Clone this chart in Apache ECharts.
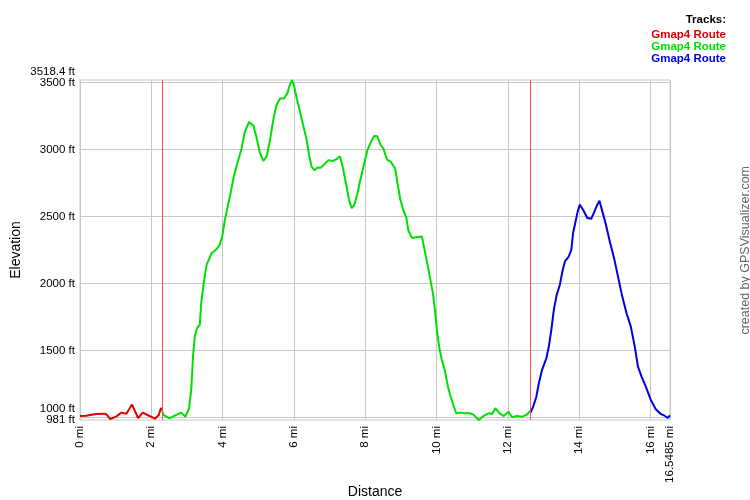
<!DOCTYPE html>
<html>
<head>
<meta charset="utf-8">
<script src="https://cdn.jsdelivr.net/npm/echarts@6/dist/echarts.min.js"></script>
<style>
  html, body { margin: 0; padding: 0; background: #fff; }
  #chart { width: 750px; height: 500px; }
</style>
</head>
<body>
<div id="chart"></div>
<script>
// track 1 (red)
const track1Dist = [0, 0.17, 0.45, 0.69, 0.75, 0.85, 1.01, 1.16, 1.30, 1.46, 1.63, 1.76, 1.95, 2.10, 2.21, 2.27, 2.30]
const track1Elev = [1010, 1013, 1026, 1028, 1021, 987, 1006, 1036, 1028, 1096, 996, 1036, 1011, 991, 1019, 1071, 1056]

// track 2 (green)
const track2Dist = [2.30, 2.34, 2.51, 2.70, 2.84, 2.96, 3.06, 3.12, 3.17, 3.22, 3.28, 3.36, 3.40, 3.47, 3.55, 3.69,
  3.83, 3.92, 3.99, 4.06, 4.15, 4.23, 4.31, 4.41, 4.53, 4.62, 4.74, 4.86, 4.97, 5.04, 5.14, 5.23, 5.32, 5.42,
  5.51, 5.61, 5.72, 5.81, 5.87, 5.94, 6.00, 6.08, 6.17, 6.26, 6.36, 6.43, 6.50, 6.58, 6.66, 6.75, 6.87, 6.96,
  7.10, 7.22, 7.29, 7.37, 7.46, 7.55, 7.62, 7.69, 7.78, 7.87, 7.97, 8.06, 8.16, 8.25, 8.34, 8.42, 8.51, 8.61,
  8.72, 8.84, 8.90, 8.98, 9.07, 9.15, 9.21, 9.31, 9.43, 9.59, 9.65, 9.78, 9.90, 9.96, 10.01, 10.08, 10.15,
  10.24, 10.32, 10.39, 10.55, 10.67, 10.81, 10.95, 11.04, 11.18, 11.32, 11.46, 11.56, 11.65, 11.77, 11.88,
  12.02, 12.12, 12.26, 12.40, 12.52, 12.64]
const track2Elev = [1056, 1019, 994, 1019, 1036, 1006, 1069, 1205, 1454, 1604, 1666, 1691, 1853, 2002, 2139, 2226,
  2255, 2289, 2351, 2471, 2583, 2682, 2794, 2894, 3006, 3130, 3205, 3180, 3068, 2981, 2914, 2944, 3056, 3218,
  3330, 3380, 3380, 3417, 3467, 3518.4, 3480, 3380, 3281, 3180, 3068, 2950, 2870, 2844, 2866, 2864, 2894, 2919,
  2914, 2932, 2949, 2869, 2744, 2620, 2562, 2583, 2670, 2782, 2894, 2994, 3056, 3101, 3099, 3039, 3007, 2924,
  2907, 2857, 2757, 2632, 2545, 2495, 2395, 2340, 2345, 2350, 2270, 2096, 1926, 1790, 1654, 1516, 1429,
  1342, 1230, 1160, 1031, 1036, 1031, 1031, 1019, 981, 1011, 1031, 1026, 1069, 1031, 1011,
  1043, 1001, 1011, 1006, 1019, 1050]

// track 3 (blue)
const track3Dist = [12.64, 12.71, 12.80, 12.87, 12.96, 13.08, 13.15, 13.22, 13.29, 13.37, 13.46, 13.53, 13.60, 13.71,
  13.78, 13.83, 13.90, 13.96, 14.02, 14.11, 14.23, 14.34, 14.43, 14.51, 14.57, 14.65, 14.74, 14.86, 14.98, 15.09,
  15.21, 15.33, 15.45, 15.56, 15.65, 15.75, 15.87, 16.01, 16.15, 16.29, 16.38, 16.48, 16.5485]
const track3Elev = [1036, 1081, 1155, 1255, 1355, 1442, 1529, 1654, 1803, 1915, 1990, 2089, 2164, 2201,
  2251, 2376, 2463, 2538, 2588, 2550, 2488, 2483, 2538, 2588, 2617, 2538, 2451, 2313, 2189, 2051,
  1902, 1778, 1678, 1529, 1379, 1305, 1230, 1131, 1061, 1026, 1016, 996, 1016]

const trackNames = ['Gmap4 Route', 'Gmap4 Route', 'Gmap4 Route']
const trackColors = ['#e00000', '#00e000', '#0000e0']
const trackBreaks = [2.30, 12.64]

const distTicks = [0, 2, 4, 6, 8, 10, 12, 14, 16, 16.5485]
const elevLabels = [981, 1500, 2000, 2500, 3000, 3500]
const elevExtraLabels = [1000, 3518.4]   // drawn nudged up so they don't collide
const elevGrid = [1000, 1500, 2000, 2500, 3000, 3500]
const elevMin = 981
const elevMax = 3518.4

const FONT = '"Liberation Sans", Arial, sans-serif'

const pairs = (xs, ys) => xs.map((x, i) => [x, ys[i]])
const tracks = [
  pairs(track1Dist, track1Elev),
  pairs(track2Dist, track2Elev),
  pairs(track3Dist, track3Elev),
]

const labelStyle = { fontFamily: FONT, fontSize: 11.5, color: '#000' }

const chart = echarts.init(document.getElementById('chart'))

chart.setOption({
  animation: false,
  grid: {
    left: 80, right: 80, top: 80, bottom: 80,
    outerBoundsMode: 'none', containLabel: false,
    show: true, borderColor: '#c8c8c8', borderWidth: 1,
  },
  xAxis: {
    type: 'value',
    min: 0,
    max: 16.5485,
    interval: 2,
    name: 'Distance',
    nameLocation: 'middle',
    nameGap: 65,
    nameMoveOverlap: false,
    nameTextStyle: { fontFamily: FONT, fontSize: 14, color: '#000' },
    axisLine: { show: false },
    axisTick: { show: false },
    splitLine: { show: true, lineStyle: { color: '#c8c8c8', width: 1 } },
    axisLabel: {
      ...labelStyle,
      customValues: distTicks,
      showMinLabel: true,
      showMaxLabel: true,
      hideOverlap: false,
      rotate: 90,
      margin: 6,
      formatter: v => v + ' mi',
    },
  },
  yAxis: [
    {
      type: 'value',
      min: elevMin,
      max: elevMax,
      name: 'Elevation',
      nameLocation: 'middle',
      nameGap: 57,
      nameMoveOverlap: false,
      nameRotate: 90,
      nameTextStyle: { fontFamily: FONT, fontSize: 14, color: '#000' },
      axisLine: { show: false },
      axisTick: { show: false, customValues: elevGrid },
      splitLine: { show: true, lineStyle: { color: '#c8c8c8', width: 1 } },
      axisLabel: {
        ...labelStyle,
        customValues: elevLabels,
        showMinLabel: true,
        showMaxLabel: true,
        hideOverlap: false,
        margin: 5,
        formatter: v => v + ' ft',
      },
    },
    {
      type: 'value',
      position: 'left',
      min: elevMin,
      max: elevMax,
      axisLine: { show: false },
      axisTick: { show: false, customValues: elevExtraLabels },
      splitLine: { show: false },
      axisLabel: {
        ...labelStyle,
        customValues: elevExtraLabels,
        showMinLabel: true,
        showMaxLabel: true,
        hideOverlap: false,
        margin: 5,
        formatter: v => '{a|' + v + ' ft}',
        rich: {
          a: { ...labelStyle, padding: [0, 0, 17, 0] },
        },
      },
    },
  ],
  graphic: [
    { type: 'text', right: 24, top: 14, style: { text: 'Tracks:', font: 'bold 11.5px ' + FONT, fill: '#000' } },
    ...trackNames.map((n, i) => ({
      type: 'text', right: 24, top: 29 + i * 11.7,
      style: { text: n, font: 'bold 11.5px ' + FONT, fill: trackColors[i] },
    })),
    {
      type: 'text', left: 739, top: 166, rotation: Math.PI / 2,
      style: { text: 'created by GPSVisualizer.com', font: '12.5px ' + FONT, fill: '#666' },
    },
  ],
  series: tracks.map((d, i) => ({
    type: 'line',
    name: trackNames[i],
    data: d,
    yAxisIndex: 0,
    showSymbol: false,
    lineStyle: { color: trackColors[i], width: 2 },
    itemStyle: { color: trackColors[i] },
    z: 3,
    markLine: i === 0 ? {
      silent: true,
      symbol: 'none',
      label: { show: false },
      data: trackBreaks.map(x => ({ xAxis: x, lineStyle: { color: '#ff5050', width: 1, type: 'solid' } })),
    } : undefined,
  })),
})
</script>
</body>
</html>
